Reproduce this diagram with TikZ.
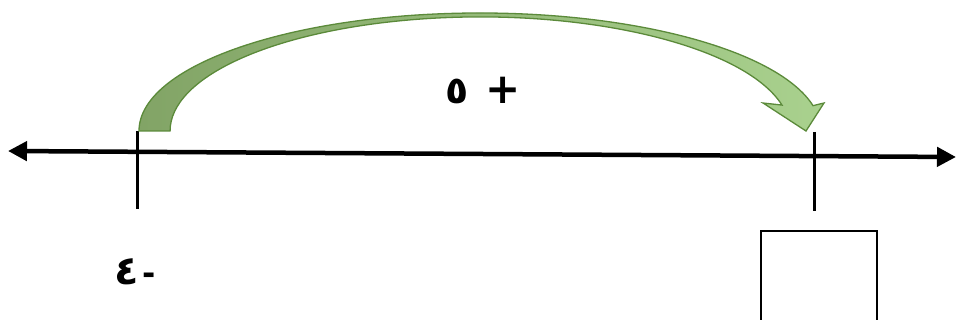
\documentclass[tikz,border=0pt]{standalone}
\usepackage{fontspec}
\newfontfamily\arabicfont[Script=Arabic]{DejaVu Sans}
\TeXXeTstate=1
\usetikzlibrary{arrows.meta,calc,positioning}
\definecolor{leafdark}{HTML}{82A466}
\definecolor{leaflight}{HTML}{A9D18E}
\definecolor{leafline}{HTML}{5B8A3A}
\tikzstyle{axisline}=[line width=4.5pt,{Triangle[length=19pt,width=19pt]}-{Triangle[length=19pt,width=19pt]}]
\tikzstyle{tick}=[line width=3pt]
\tikzstyle{jump}=[draw=leafline,line width=1.3pt,left color=leafdark,right color=leaflight,line join=miter]
\tikzstyle{answer}=[draw,line width=2pt,minimum width=116pt,minimum height=100pt,inner sep=0pt]
\tikzstyle{numlabel}=[font=\arabicfont\bfseries\fontsize{32}{36}\selectfont,inner sep=0pt]

\begin{document}
\begin{tikzpicture}[x=1pt,y=1pt]
\useasboundingbox (0,0) rectangle (958,320);
\coordinate (L) at (8,169);
\coordinate (R) at (956,163);
\draw[axisline] (L) -- (R);
\foreach \n/\x/\yt/\yb in {a/137/189/111,b/814/188/109}{
  \coordinate (\n top) at (\x,\yt);
  \coordinate (\n bot) at (\x,\yb);
  \draw[tick] (\n top) -- (\n bot);
}
\draw[jump] (139,189) arc[start angle=180,end angle=12.4,x radius=341,y radius=118]
  -- (824,217) -- (806,189) -- (763,217) -- (782,214.9)
  arc[start angle=13.1,end angle=180,x radius=310,y radius=114] -- cycle;
\node[numlabel] (step) at (483,229) {\beginR\mbox{\fontsize{42}{44}\selectfont+}\kern16pt\mbox{\fontsize{38}{40}\selectfont٥}\endR};
\node[numlabel] (start) at (135,48) {\beginR\mbox{-}\kern4pt\mbox{\fontsize{40}{42}\selectfont٤}\endR};
\node[answer] (box) at (819,39) {};
\end{tikzpicture}
\end{document}
